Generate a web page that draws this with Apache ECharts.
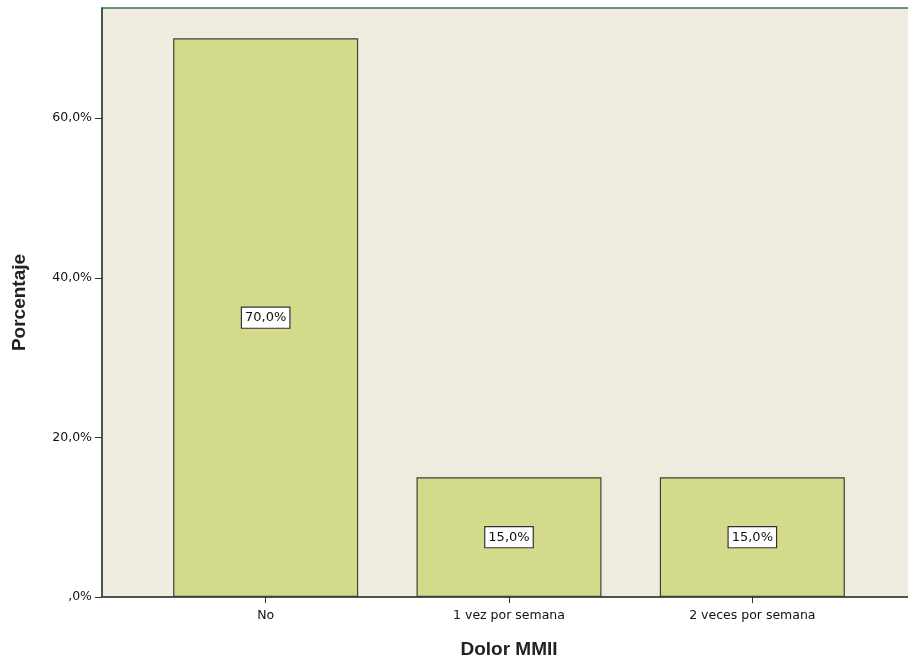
<!DOCTYPE html>
<html><head><meta charset="utf-8">
<script src="https://cdn.jsdelivr.net/npm/echarts@6/dist/echarts.min.js"></script>
<style>html,body{margin:0;padding:0;background:#fff}#c{width:908px;height:662px}</style>
</head><body><div id="c"></div>
<script>
const categories = ['No', '1 vez por semana', '2 veces por semana'];
const values = [70.0, 15.0, 15.0];
const yTicks = [0, 20, 40, 60];
const yMax = 73.8;

function pct(v){ const s = v.toFixed(1).replace('.', ','); return (v === 0 ? ',0' : s) + '%'; }

const chart = echarts.init(document.getElementById('c'));
chart.setOption({
  animation: false,
  backgroundColor: '#ffffff',
  grid: [
    {left: 144, right: 34, top: 8, bottom: 65, outerBoundsMode: 'none', containLabel: false},
    {left: 102, right: -4, top: 8, bottom: 65, outerBoundsMode: 'none', containLabel: false, show: true, backgroundColor: '#efecdf', borderColor: '#3d6f5e', borderWidth: 1.5, z: 0}
  ],
  xAxis: [
    {type: 'category', gridIndex: 0, data: categories,
     axisLine: {show: false},
     axisTick: {show: true, alignWithLabel: true, length: 6, lineStyle: {color: '#333'}},
     axisLabel: {color: '#111', fontFamily: 'DejaVu Sans', fontSize: 12.5, margin: 12},
     name: 'Dolor MMII', nameLocation: 'middle', nameGap: 43,
     nameTextStyle: {fontFamily: 'Liberation Sans, Arial', fontWeight: 'bold', fontSize: 19, color: '#222'}},
    {type: 'category', gridIndex: 1, data: categories, show: true,
     axisLine: {show: true, lineStyle: {color: '#2f4a40', width: 1.5}},
     axisTick: {show: false}, axisLabel: {show: false}}
  ],
  yAxis: [
    {type: 'value', gridIndex: 0, min: 0, max: yMax, show: false, splitLine: {show: false}},
    {type: 'value', gridIndex: 1, min: 0, max: yMax, interval: 20,
     axisLine: {show: true, lineStyle: {color: '#2f4a40', width: 1.5}},
     axisTick: {show: true, length: 7, customValues: yTicks, lineStyle: {color: '#333'}},
     axisLabel: {customValues: yTicks, formatter: v => pct(v), color: '#111', fontFamily: 'DejaVu Sans', fontSize: 12.5, margin: 10},
     splitLine: {show: false},
     name: 'Porcentaje', nameLocation: 'middle', nameGap: 73, nameRotate: 90,
     nameTextStyle: {fontFamily: 'Liberation Sans, Arial', fontWeight: 'bold', fontSize: 19, color: '#222'}}
  ],
  series: [{
    type: 'bar', xAxisIndex: 0, yAxisIndex: 0, data: values, barWidth: 185, z: 5,
    itemStyle: {color: '#d4da8c', borderColor: '#3a4536', borderWidth: 1.2},
    label: {show: true, position: 'inside', formatter: p => pct(p.value),
      color: '#111', fontFamily: 'DejaVu Sans', fontSize: 13,
      backgroundColor: '#ffffff', borderColor: '#333', borderWidth: 1.2, padding: [4, 3, 3, 3]}
  }]
});
</script></body></html>
